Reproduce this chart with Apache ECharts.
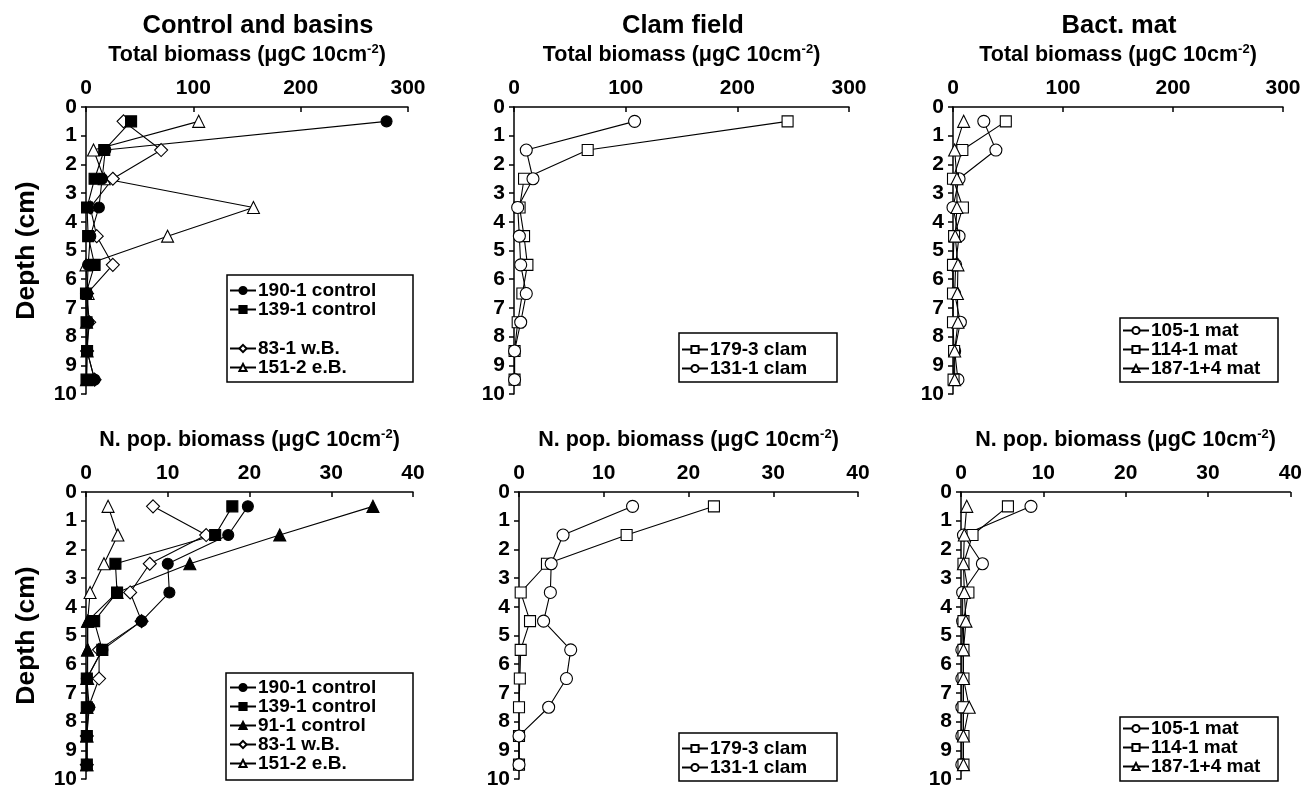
<!DOCTYPE html>
<html>
<head>
<meta charset="utf-8">
<script src="https://cdn.jsdelivr.net/npm/echarts@6/dist/echarts.min.js"></script>
<style>html,body{margin:0;padding:0;background:#fff}#c{width:1305px;height:790px}</style>
</head>
<body>
<div id="c"></div>
<script>
// ---------- DATA ----------
const depths = [0.5, 1.5, 2.5, 3.5, 4.5, 5.5, 6.5, 7.5, 8.5, 9.5];
const depthTicks = ['0','1','2','3','4','5','6','7','8','9','10'];
const totalTicks = ['0','100','200','300'];
const popTicks = ['0','10','20','30','40'];

// Control and basins - total biomass
const cb_total_190_1 = [280, 18, 15, 12, 4, 2, 1, 2, 1, 8];
const cb_total_139_1 = [42, 17, 8, 1, 2, 8, 0, 0.5, 1, 0.5];
const cb_total_83_1  = [35, 70, 25, 4, 10, 25, 1, 3, 1, 8];
const cb_total_151_2 = [105, 7, 17, 156, 76, 0, 2, 0.5, 1, 0.5];
// Control and basins - N. pop. biomass
const cb_pop_190_1 = [19.8, 17.4, 10.0, 10.2, 6.8, 2.0, 0.1, 0.4, 0.1, 0.1];
const cb_pop_139_1 = [17.9, 15.8, 3.6, 3.8, 1.0, 2.0, 0.1, 0.1, 0.1, 0.1];
const cb_pop_91_1  = [35.1, 23.7, 12.7, 3.8, 0.2, 0.2, 0.1, 0.1, 0.1, 0.1];
const cb_pop_83_1  = [8.2, 14.7, 7.8, 5.4, 6.8, 1.6, 1.6, 0.3, 0.1, 0.1];
const cb_pop_151_2 = [2.7, 3.9, 2.2, 0.5, 0.2, 0.2, 0.2, 0.1, 0.1, 0.1];
// Clam field
const cf_total_179_3 = [245, 66, 9, 5, 9, 12, 7.5, 3.3, 0.5, 0.5];
const cf_total_131_1 = [108, 11, 17, 3.3, 4.8, 6, 11, 6, 0.5, 0.5];
const cf_pop_179_3 = [23.0, 12.7, 3.3, 0.2, 1.3, 0.2, 0.1, 0, 0, 0];
const cf_pop_131_1 = [13.4, 5.2, 3.8, 3.7, 2.9, 6.1, 5.6, 3.5, 0, 0];
// Bacterial mat
const bm_total_105_1 = [28, 39, 5.5, 0, 5.5, 2.4, 1.5, 6.7, 1.5, 4.5];
const bm_total_114_1 = [48, 8.5, 0, 9, 1, 0, 0, 0, 1, 0.5];
const bm_total_187_1 = [9.7, 1.5, 3.6, 3.6, 2, 4.5, 4, 4.5, 1.5, 1.5];
const bm_pop_105_1 = [8.5, 0.3, 2.6, 0.2, 0.2, 0.1, 0.1, 0.1, 0.1, 0.1];
const bm_pop_114_1 = [5.7, 1.4, 0.3, 0.9, 0.3, 0.3, 0.3, 0.3, 0.3, 0.3];
const bm_pop_187_1 = [0.7, 0.4, 0.3, 0.4, 0.6, 0.3, 0.3, 1.0, 0.3, 0.3];

const panelTitles = ['Control and basins', 'Clam field', 'Bact. mat'];
const totalName = ['Total biomass (μgC 10cm', '-2', ')'];
const popName = ['N. pop. biomass (μgC 10cm', '-2', ')'];
const depthName = 'Depth (cm)';

// ---------- STYLE ----------
const FONT = '"Liberation Sans", Arial, sans-serif';
const marks = {
  fCircle: { symbol: 'circle', fill: '#000', size: 11 },
  fSquare: { symbol: 'rect', fill: '#000', size: 11 },
  fTri:    { symbol: 'triangle', fill: '#000', size: 12 },
  oDiam:   { symbol: 'diamond', fill: '#fff', size: 13 },
  oTri:    { symbol: 'triangle', fill: '#fff', size: 12 },
  oSquare: { symbol: 'rect', fill: '#fff', size: 11 },
  oCircle: { symbol: 'circle', fill: '#fff', size: 12 }
};

const grids = [
  { left: 86,  top: 107, width: 322, height: 287 },
  { left: 514, top: 107, width: 335, height: 287 },
  { left: 953, top: 107, width: 330, height: 287 },
  { left: 86,  top: 492, width: 327, height: 287 },
  { left: 519, top: 492, width: 339, height: 287 },
  { left: 961, top: 492, width: 334, height: 287 }
];

function richName(parts) {
  return '{a|' + parts[0] + '}{s|' + parts[1] + '}{a|' + parts[2] + '}';
}

const xAxes = grids.map((g, i) => {
  const isTotal = i < 3;
  const ticks = isTotal ? totalTicks : popTicks;
  return {
    gridIndex: i, type: 'value', position: 'top',
    min: Number(ticks[0]), max: Number(ticks[ticks.length - 1]),
    interval: Number(ticks[1]) - Number(ticks[0]),
    name: richName(isTotal ? totalName : popName),
    nameLocation: 'middle', nameGap: 40,
    nameTextStyle: {
      rich: {
        a: { fontFamily: FONT, fontWeight: 'bold', fontSize: 21.5, color: '#000', lineHeight: 24 },
        s: { fontFamily: FONT, fontWeight: 'bold', fontSize: 13, color: '#000', verticalAlign: 'top', lineHeight: 24 }
      }
    },
    axisLine: { show: true, onZero: false, lineStyle: { color: '#000', width: 1.5 } },
    axisTick: { show: true, inside: true, length: 5, lineStyle: { color: '#000', width: 1.5 } },
    axisLabel: { fontFamily: FONT, fontWeight: 'bold', fontSize: 21, color: '#000', margin: 8 },
    splitLine: { show: false }
  };
});

const yAxes = grids.map((g, i) => ({
  gridIndex: i, type: 'value', inverse: true,
  min: Number(depthTicks[0]), max: Number(depthTicks[depthTicks.length - 1]), interval: 1,
  name: (i === 0 || i === 3) ? depthName : '',
  nameLocation: 'middle', nameGap: 46, nameRotate: 90,
  nameTextStyle: { fontFamily: FONT, fontWeight: 'bold', fontSize: 26.5, color: '#000' },
  axisLine: { show: true, onZero: false, lineStyle: { color: '#000', width: 1.5 } },
  axisTick: { show: true, inside: false, length: 5, lineStyle: { color: '#000', width: 1.5 } },
  axisLabel: { fontFamily: FONT, fontWeight: 'bold', fontSize: 21, color: '#000', margin: 9 },
  splitLine: { show: false }
}));

function mk(name, vals, mark, gi) {
  const m = marks[mark];
  return {
    type: 'line', name: name, xAxisIndex: gi, yAxisIndex: gi,
    data: vals.map((v, k) => [v, depths[k]]),
    symbol: m.symbol, symbolSize: m.size, showSymbol: true,
    lineStyle: { color: '#000', width: 1.1 },
    itemStyle: { color: m.fill, borderColor: '#000', borderWidth: 1.1 },
    emphasis: { disabled: true }, animation: false, z: 3
  };
}

const series = [
  mk('151-2 e.B.', cb_total_151_2, 'oTri', 0),
  mk('83-1 w.B.', cb_total_83_1, 'oDiam', 0),
  mk('190-1 control', cb_total_190_1, 'fCircle', 0),
  mk('139-1 control', cb_total_139_1, 'fSquare', 0),

  mk('151-2 e.B. ', cb_pop_151_2, 'oTri', 3),
  mk('83-1 w.B. ', cb_pop_83_1, 'oDiam', 3),
  mk('91-1 control', cb_pop_91_1, 'fTri', 3),
  mk('190-1 control ', cb_pop_190_1, 'fCircle', 3),
  mk('139-1 control ', cb_pop_139_1, 'fSquare', 3),

  mk('179-3 clam', cf_total_179_3, 'oSquare', 1),
  mk('131-1 clam', cf_total_131_1, 'oCircle', 1),
  mk('179-3 clam ', cf_pop_179_3, 'oSquare', 4),
  mk('131-1 clam ', cf_pop_131_1, 'oCircle', 4),

  mk('105-1 mat', bm_total_105_1, 'oCircle', 2),
  mk('114-1 mat', bm_total_114_1, 'oSquare', 2),
  mk('187-1+4 mat', bm_total_187_1, 'oTri', 2),
  mk('105-1 mat ', bm_pop_105_1, 'oCircle', 5),
  mk('114-1 mat ', bm_pop_114_1, 'oSquare', 5),
  mk('187-1+4 mat ', bm_pop_187_1, 'oTri', 5)
];

function leg(names, left, top) {
  return {
    orient: 'vertical', left: left, top: top, padding: 0, itemGap: 0,
    itemWidth: 26, itemHeight: 9, selectedMode: false,
    data: names,
    formatter: n => n.trim(),
    textStyle: { fontFamily: FONT, fontWeight: 'bold', fontSize: 19, color: '#000', lineHeight: 19, padding: [0, 0, 0, -3] }
  };
}

const legends = [
  leg(['190-1 control', '139-1 control'], 229, 281),
  leg(['83-1 w.B.', '151-2 e.B.'], 229, 339),
  leg(['190-1 control ', '139-1 control ', '91-1 control', '83-1 w.B. ', '151-2 e.B. '], 229, 678),
  leg(['179-3 clam', '131-1 clam'], 681, 340),
  leg(['179-3 clam ', '131-1 clam '], 681, 739),
  leg(['105-1 mat', '114-1 mat', '187-1+4 mat'], 1122, 321),
  leg(['105-1 mat ', '114-1 mat ', '187-1+4 mat '], 1122, 719)
];

const boxes = [
  [227, 275, 186, 107], [226, 673, 187, 107],
  [679, 333, 158, 49], [679, 733, 158, 48],
  [1120, 318, 158, 64], [1120, 717, 158, 64]
];

const titleX = [253, 678, 1114];

const option = {
  backgroundColor: '#fff',
  animation: false,
  title: panelTitles.map((t, i) => ({
    text: t, left: titleX[i], top: 8, textAlign: 'center',
    textStyle: { fontFamily: FONT, fontWeight: 'bold', fontSize: 25.5, color: '#000' }
  })),
  grid: grids,
  xAxis: xAxes,
  yAxis: yAxes,
  legend: legends,
  series: series,
  graphic: boxes.map(b => ({
    type: 'rect', shape: { x: b[0], y: b[1], width: b[2], height: b[3] },
    style: { fill: 'none', stroke: '#000', lineWidth: 1.5 }, silent: true, z: 10
  }))
};

const chart = echarts.init(document.getElementById('c'), null, { renderer: 'canvas' });
chart.setOption(option);
</script>
</body>
</html>
